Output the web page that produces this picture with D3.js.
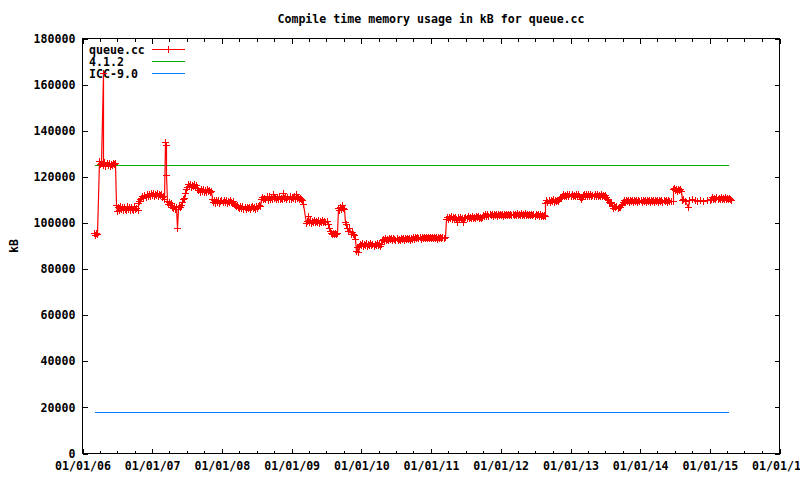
<!DOCTYPE html>
<html><head><meta charset="utf-8">
<script src="https://cdn.jsdelivr.net/npm/d3@7"></script>
<style>
body{margin:0;background:#fff}
svg{display:block}
text{font-family:"DejaVu Sans Mono","Liberation Mono",monospace;font-weight:bold;font-size:11.6px;fill:#000}
</style>
</head><body>
<svg id="chart" width="800" height="480"></svg>
<script>
const chartTitle = "Compile time memory usage in kB for queue.cc";
const yAxisLabel = "kB";
const seriesNames = ["queue.cc", "4.1.2", "ICC-9.0"];
const seriesColors = ["#ff0000", "#00b000", "#0080ff"];
const xTickYears = [2006, 2007, 2008, 2009, 2010, 2011, 2012, 2013, 2014, 2015, 2016];
const yTicks = [0, 20000, 40000, 60000, 80000, 100000, 120000, 140000, 160000, 180000];

// reference compilers (decimal year, kB)
const gcc412 = [[2006.18, 125000], [2015.27, 125000]];
const icc90 = [[2006.18, 17700], [2015.27, 17700]];

// queue.cc measurements (decimal year, kB)
const queueSeries = [
[2006.170,95500],[2006.185,94600],[2006.200,95800],[2006.215,95000],
[2006.240,126800],[2006.255,125400],[2006.270,126200],[2006.290,165000],[2006.300,125000],[2006.315,126400],[2006.330,124800],[2006.345,125800],[2006.360,125200],[2006.375,126200],[2006.390,124800],[2006.405,125600],[2006.420,125000],[2006.435,126000],[2006.450,125400],[2006.465,125800],
[2006.480,108000],[2006.490,105000],[2006.505,106800],[2006.520,105600],[2006.535,107200],[2006.550,106000],[2006.565,106800],[2006.580,105400],[2006.595,107000],[2006.610,106200],[2006.625,105600],[2006.640,107200],[2006.655,106000],[2006.670,106800],[2006.685,105600],[2006.700,107000],[2006.715,106200],[2006.730,105800],[2006.745,107200],[2006.760,106000],[2006.775,106600],[2006.790,105800],[2006.800,108600],
[2006.815,109600],[2006.830,110400],[2006.845,111000],[2006.860,111800],[2006.875,110800],[2006.890,112200],[2006.905,111400],[2006.920,112600],[2006.935,111600],[2006.950,112400],[2006.965,111800],[2006.980,113000],[2006.995,112000],[2007.010,112800],[2007.025,111800],[2007.040,112600],[2007.055,112000],[2007.070,113000],[2007.085,111800],[2007.100,112600],[2007.115,112000],[2007.130,112400],[2007.145,111400],[2007.160,111800],[2007.175,110600],
[2007.190,135000],[2007.195,134000],[2007.200,121000],
[2007.210,109600],[2007.225,108400],[2007.240,109200],[2007.255,107800],[2007.270,108800],[2007.285,107000],[2007.300,106400],[2007.315,107200],[2007.330,106000],[2007.345,106800],[2007.355,98000],[2007.365,106200],[2007.380,107400],[2007.395,106800],[2007.410,108000],[2007.425,109200],[2007.440,110400],[2007.455,111000],[2007.470,113000],[2007.485,114600],[2007.500,115600],[2007.515,117000],[2007.530,116200],[2007.545,117000],[2007.560,115800],[2007.575,116600],[2007.590,116000],[2007.605,116800],[2007.620,115600],[2007.635,116400],[2007.650,115000],[2007.665,114200],[2007.680,113600],[2007.695,114600],[2007.710,113800],[2007.725,114800],[2007.740,113400],[2007.755,114400],[2007.770,113600],[2007.785,114600],[2007.800,113800],[2007.815,114200],[2007.830,113400],[2007.845,114000],[2007.860,110400],[2007.875,109000],
[2007.890,109800],[2007.905,108800],[2007.920,110000],[2007.935,109200],[2007.950,109800],[2007.965,108800],[2007.980,109600],[2007.995,110000],[2008.010,109000],[2008.025,109800],[2008.040,109200],[2008.055,110000],[2008.070,108800],[2008.085,109600],[2008.100,109000],[2008.115,109800],[2008.130,109200],[2008.145,108600],[2008.160,109400],[2008.175,108400],[2008.190,108000],[2008.205,107400],[2008.220,108000],[2008.235,107000],[2008.250,106400],[2008.265,107200],[2008.280,106600],[2008.295,107400],[2008.310,106200],[2008.325,106800],[2008.340,106000],[2008.355,107000],[2008.370,106400],[2008.385,106800],[2008.400,106000],[2008.415,106800],[2008.430,107200],[2008.445,106400],[2008.460,107000],[2008.475,106200],[2008.490,107200],[2008.505,106600],[2008.520,107400],[2008.535,108000],[2008.550,107400],
[2008.565,110600],[2008.580,111400],[2008.595,110200],[2008.610,111000],[2008.625,110400],[2008.640,111600],[2008.655,110000],[2008.670,111800],[2008.685,110600],[2008.700,111200],[2008.715,110400],[2008.730,112600],[2008.745,110800],[2008.760,111400],[2008.775,110200],[2008.790,111200],[2008.805,110600],[2008.820,111800],[2008.835,110400],[2008.850,111000],[2008.865,110200],[2008.880,112800],[2008.895,110800],[2008.910,111400],[2008.925,110400],[2008.940,111200],[2008.955,110600],[2008.970,111800],[2008.985,110400],[2009.000,111400],[2009.015,110800],[2009.030,111600],[2009.045,110600],[2009.060,112400],[2009.075,110800],[2009.090,111200],[2009.105,110400],[2009.120,111000],[2009.135,110200],[2009.150,109800],[2009.165,108400],
[2009.205,99800],[2009.220,101000],[2009.230,103000],[2009.245,100400],[2009.260,101200],[2009.275,100000],[2009.290,101000],[2009.305,100400],[2009.320,101400],[2009.335,100200],[2009.350,101000],[2009.365,100400],[2009.380,101200],[2009.395,100000],[2009.410,100800],[2009.425,100400],[2009.440,101200],[2009.455,100200],[2009.470,101000],[2009.485,100400],[2009.500,100800],[2009.515,99400],[2009.530,97800],[2009.545,96400],
[2009.560,95800],[2009.575,95000],[2009.590,95800],[2009.605,95200],[2009.620,95800],[2009.635,95000],[2009.650,95600],[2009.665,106400],[2009.680,105400],[2009.695,107000],[2009.710,106200],[2009.725,107600],[2009.740,106600],[2009.755,106000],[2009.770,100600],[2009.785,99600],[2009.800,98000],[2009.815,96400],[2009.830,97600],[2009.845,95400],[2009.860,96200],[2009.875,95200],[2009.890,94800],[2009.905,93200],[2009.920,88000],[2009.935,89600],[2009.950,87600],
[2009.965,90000],[2009.980,91000],[2009.995,90400],[2010.010,91200],[2010.025,90200],[2010.040,90800],[2010.055,90400],[2010.070,91200],[2010.085,90200],[2010.100,90800],[2010.115,90400],[2010.130,91200],[2010.145,90600],[2010.160,91000],[2010.175,90200],[2010.190,90800],[2010.205,90400],[2010.220,91200],[2010.235,90400],[2010.250,90800],[2010.265,90200],[2010.280,91000],[2010.295,92400],
[2010.310,93000],[2010.325,92400],[2010.340,93400],[2010.355,92800],[2010.370,93200],[2010.385,92600],[2010.400,93600],[2010.415,92900],[2010.430,93300],[2010.445,92700],[2010.460,93500],[2010.475,93000],[2010.490,92600],[2010.505,93400],[2010.520,92800],[2010.535,93200],[2010.550,92700],[2010.565,93600],[2010.580,93000],[2010.595,93400],[2010.610,92800],[2010.625,93600],[2010.640,93100],[2010.655,93500],[2010.670,92900],[2010.685,93400],[2010.700,92800],[2010.715,93600],[2010.730,93200],[2010.745,93800],[2010.760,93200],[2010.775,93900],[2010.790,93400],[2010.805,94000],[2010.820,93400],[2010.835,93800],[2010.850,93200],[2010.865,94000],[2010.880,93500],[2010.895,93900],[2010.910,93300],[2010.925,94000],[2010.940,93500],[2010.955,93900],[2010.970,93300],[2010.985,94000],[2011.000,93500],[2011.015,93900],[2011.030,93300],[2011.045,94000],[2011.060,93400],[2011.075,93800],[2011.090,93200],[2011.105,94000],[2011.120,93500],[2011.135,93900],[2011.150,93300],[2011.165,93800],[2011.180,93400],[2011.195,93800],
[2011.210,101800],[2011.225,102600],[2011.240,101800],[2011.255,102400],[2011.270,102000],[2011.285,102800],[2011.300,101600],[2011.315,102400],[2011.330,102000],[2011.345,102600],[2011.360,101800],[2011.375,100400],[2011.390,102400],[2011.405,101600],[2011.420,102600],[2011.435,101800],[2011.450,102200],[2011.465,100600],[2011.480,102000],[2011.495,102600],[2011.510,102000],[2011.525,102800],[2011.540,102200],[2011.555,102600],[2011.570,102000],[2011.585,102800],[2011.600,102200],[2011.615,102600],[2011.630,102000],[2011.645,102800],[2011.660,102400],[2011.675,102800],[2011.690,102200],[2011.705,102600],[2011.720,102000],[2011.735,102600],
[2011.750,103400],[2011.765,103000],[2011.780,103800],[2011.795,103200],[2011.810,103700],[2011.825,103100],[2011.840,103800],[2011.855,103300],[2011.870,103700],[2011.885,103000],[2011.900,103800],[2011.915,103400],[2011.930,103900],[2011.945,103200],[2011.960,103800],[2011.975,103300],[2011.990,103900],[2012.005,103400],[2012.020,103800],[2012.035,103200],[2012.050,103900],[2012.065,103400],[2012.080,103800],[2012.095,103300],[2012.110,104000],[2012.125,103500],[2012.140,103900],[2012.155,103300],[2012.170,104000],[2012.185,103500],[2012.200,103900],[2012.215,103400],[2012.230,104100],[2012.245,103600],[2012.260,104000],[2012.275,103400],[2012.290,104100],[2012.305,103600],[2012.320,104000],[2012.335,103400],[2012.350,104100],[2012.365,103500],[2012.380,104000],[2012.395,103400],[2012.410,103900],[2012.425,103300],[2012.440,103900],[2012.455,103400],[2012.470,103800],[2012.485,103200],[2012.500,103800],[2012.515,103300],[2012.530,103700],[2012.545,103100],[2012.560,103700],[2012.575,103200],[2012.590,103600],[2012.605,103000],[2012.620,103600],[2012.632,103000],
[2012.640,108800],[2012.655,109800],[2012.670,109200],[2012.685,110000],[2012.700,109000],[2012.715,109800],[2012.730,109400],[2012.745,110200],[2012.760,109200],[2012.775,109800],[2012.790,109400],[2012.805,110000],[2012.820,109600],[2012.835,110400],[2012.850,110800],[2012.865,111200],[2012.880,111800],
[2012.895,112400],[2012.910,111600],[2012.925,112200],[2012.940,111800],[2012.955,112600],[2012.970,111600],[2012.985,112400],[2013.000,111800],[2013.015,112600],[2013.030,111800],[2013.045,112200],[2013.060,111600],[2013.075,112400],[2013.090,111800],[2013.105,112600],[2013.120,111600],[2013.135,111200],[2013.150,110200],[2013.165,111400],[2013.180,112000],[2013.195,112600],[2013.210,111800],[2013.225,112400],[2013.240,111600],[2013.255,112600],[2013.270,111800],[2013.285,112400],[2013.300,111600],[2013.315,112200],[2013.330,111800],[2013.345,112600],[2013.360,111800],[2013.375,112400],[2013.390,111600],[2013.405,112200],[2013.420,111800],[2013.435,112400],[2013.450,111600],[2013.465,112200],[2013.480,111800],[2013.495,112000],[2013.510,111400],[2013.525,110600],[2013.540,109800],
[2013.555,109200],[2013.570,108600],[2013.585,109000],[2013.600,107400],[2013.615,106600],[2013.630,107200],[2013.645,106800],[2013.660,107400],[2013.675,106600],[2013.690,107000],[2013.705,106800],[2013.720,107800],[2013.735,108400],[2013.750,109200],
[2013.765,109800],[2013.780,109200],[2013.795,110000],[2013.810,109400],[2013.825,109800],[2013.840,109200],[2013.855,110000],[2013.870,109400],[2013.885,109900],[2013.900,109300],[2013.915,110000],[2013.930,109500],[2013.945,109800],[2013.960,109200],[2013.975,110000],[2013.990,109400],[2014.005,109900],[2014.020,109300],[2014.035,110000],[2014.050,109500],[2014.065,109800],[2014.080,109200],[2014.095,110000],[2014.110,109400],[2014.125,109900],[2014.140,109300],[2014.155,110000],[2014.170,109500],[2014.185,109800],[2014.200,109200],[2014.215,110000],[2014.230,109400],[2014.245,109900],[2014.260,109300],[2014.275,110000],[2014.290,109500],[2014.305,109800],[2014.320,109200],[2014.335,110000],[2014.350,109400],[2014.365,109900],[2014.380,109300],[2014.395,110000],[2014.410,109500],
[2014.440,109600],[2014.465,109400],[2014.470,114600],[2014.485,115000],[2014.500,114200],[2014.515,114800],[2014.530,114000],[2014.545,114600],[2014.560,114200],[2014.575,114800],[2014.590,114000],[2014.600,109800],[2014.620,110200],[2014.645,109600],[2014.688,106700],[2014.700,109800],[2014.745,110200],[2014.780,109800],[2014.817,109600],[2014.860,109800],[2014.903,109600],[2014.960,109800],[2015.000,110000],
[2015.020,110600],[2015.035,111200],[2015.050,110400],[2015.065,111000],[2015.080,110200],[2015.095,111200],[2015.110,110600],[2015.125,111000],[2015.140,110400],[2015.155,111200],[2015.170,110600],[2015.185,111000],[2015.200,110200],[2015.215,111200],[2015.230,110600],[2015.245,111000],[2015.260,110400],[2015.275,110800],[2015.290,110200],[2015.305,110000]
];

// helpers
function yearToDate(v) {
  const yr = Math.floor(v);
  const start = new Date(yr, 0, 1), end = new Date(yr + 1, 0, 1);
  return new Date(start.getTime() + (v - yr) * (end - start));
}

const svg = d3.select("#chart");
const L = 82.5, R = 779.5, T = 38.5, B = 453.5;

const x = d3.scaleTime()
  .domain([new Date(xTickYears[0], 0, 1), new Date(xTickYears[xTickYears.length - 1], 0, 1)])
  .range([L, R]);
const y = d3.scaleLinear().domain([0, 180000]).range([B, T]);

const fmt = d3.timeFormat("%m/%d/%y");
const majorTicks = xTickYears.map(v => new Date(v, 0, 1));
const minorTicks = d3.timeMonth.every(3).range(majorTicks[0], majorTicks[majorTicks.length - 1])
  .filter(d => d.getMonth() !== 0);

// title
svg.append("text").attr("x", 431).attr("y", 23).attr("text-anchor", "middle").text(chartTitle);
// y label
svg.append("text").attr("transform", "translate(18,246) rotate(-90)").attr("text-anchor", "middle").text(yAxisLabel);

function styleAxis(g) {
  g.select(".domain").remove();
  g.selectAll("line").attr("stroke", "#000").attr("shape-rendering", "crispEdges");
  g.selectAll("text").attr("fill", "#000");
  g.attr("font-family", null).attr("font-size", null);
}

// bottom major
svg.append("g").attr("transform", `translate(0,${B})`)
  .call(d3.axisBottom(x).tickValues(majorTicks).tickFormat(fmt).tickSize(-5).tickPadding(8))
  .call(styleAxis);
// bottom minor
svg.append("g").attr("transform", `translate(0,${B})`)
  .call(d3.axisBottom(x).tickValues(minorTicks).tickFormat("").tickSize(-3))
  .call(styleAxis);
// top major/minor (mirror)
svg.append("g").attr("transform", `translate(0,${T})`)
  .call(d3.axisTop(x).tickValues(majorTicks).tickFormat("").tickSize(-5))
  .call(styleAxis);
svg.append("g").attr("transform", `translate(0,${T})`)
  .call(d3.axisTop(x).tickValues(minorTicks).tickFormat("").tickSize(-3))
  .call(styleAxis);
// left
svg.append("g").attr("transform", `translate(${L},0)`)
  .call(d3.axisLeft(y).tickValues(yTicks).tickFormat(d3.format("d")).tickSize(-5).tickPadding(7))
  .call(styleAxis);
// right mirror
svg.append("g").attr("transform", `translate(${R},0)`)
  .call(d3.axisRight(y).tickValues(yTicks).tickFormat("").tickSize(-5))
  .call(styleAxis);

// frame
svg.append("rect").attr("x", L).attr("y", T).attr("width", R - L).attr("height", B - T)
  .attr("fill", "none").attr("stroke", "#000").attr("shape-rendering", "crispEdges");

// legend
const legendY = [49.5, 61.5, 73.5];
seriesNames.forEach((name, i) => {
  svg.append("text").attr("x", 89).attr("y", legendY[i] + 4).text(name);
  svg.append("line").attr("x1", 152).attr("x2", 185).attr("y1", legendY[i]).attr("y2", legendY[i])
    .attr("stroke", seriesColors[i]).attr("shape-rendering", "crispEdges");
});
const crossPath = "M-3.5,0H3.5M0,-3.5V3.5";
svg.append("path").attr("d", crossPath).attr("transform", `translate(168.5,${legendY[0]})`)
  .attr("stroke", seriesColors[0]).attr("fill", "none").attr("shape-rendering", "crispEdges");

const line = d3.line().x(d => x(yearToDate(d[0]))).y(d => y(d[1]));

// reference lines
svg.append("path").datum(gcc412).attr("d", line).attr("stroke", seriesColors[1]).attr("fill", "none").attr("shape-rendering", "crispEdges");
svg.append("path").datum(icc90).attr("d", line).attr("stroke", seriesColors[2]).attr("fill", "none").attr("shape-rendering", "crispEdges");

// queue.cc series
const sx = d => Math.round(x(yearToDate(d[0]))) + 0.5;
const sy = d => Math.round(y(d[1])) + 0.5;
svg.append("path").datum(queueSeries)
  .attr("d", d3.line().x(sx).y(sy))
  .attr("stroke", seriesColors[0]).attr("fill", "none").attr("stroke-width", 1.2);
svg.append("g").selectAll("path").data(queueSeries).join("path")
  .attr("d", crossPath)
  .attr("transform", d => `translate(${sx(d)},${sy(d)})`)
  .attr("stroke", seriesColors[0]).attr("fill", "none").attr("shape-rendering", "crispEdges");
</script>
</body></html>
